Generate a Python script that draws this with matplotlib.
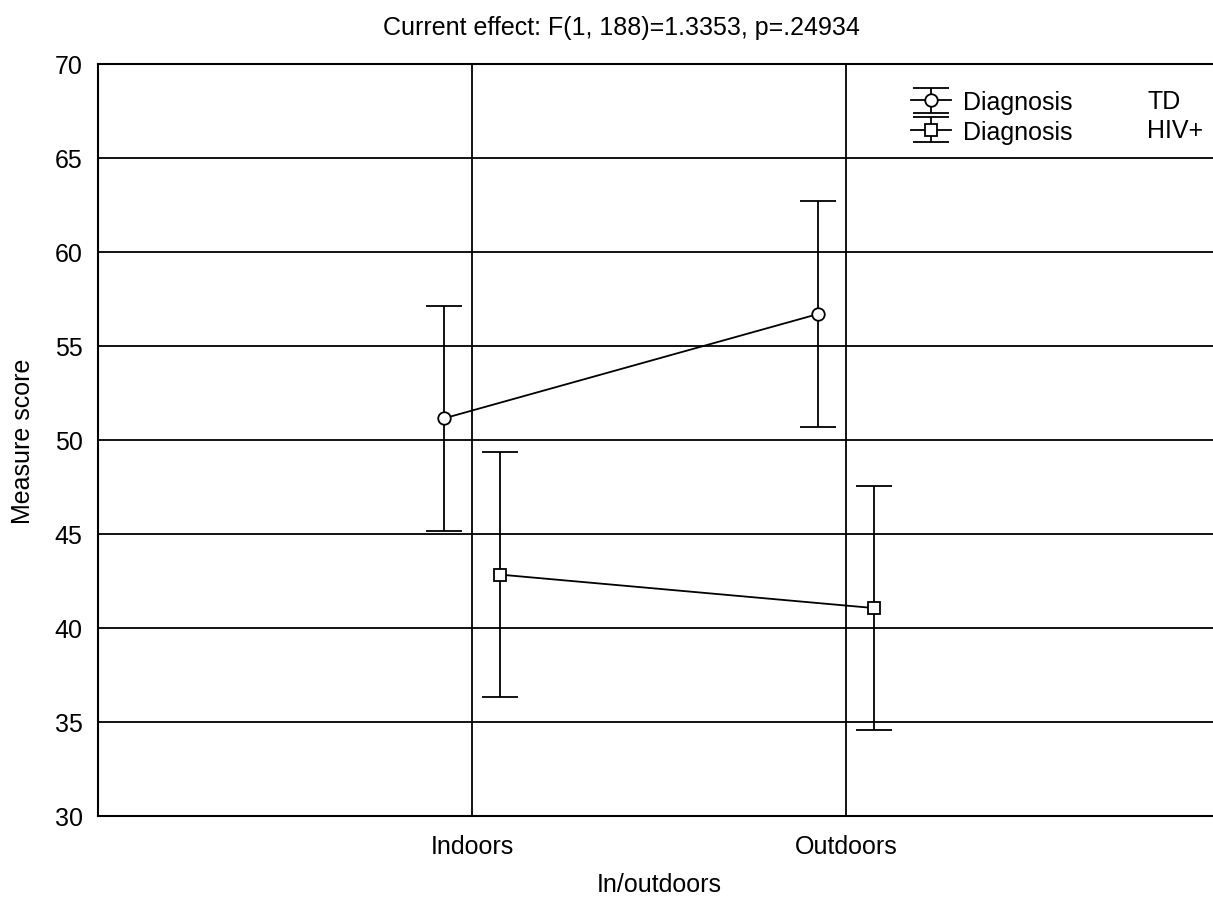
import matplotlib
matplotlib.use('Agg')

import matplotlib.pyplot as plt

plt.rcParams['font.family'] = ['Liberation Sans', 'DejaVu Sans']

# data
categories = ['Indoors', 'Outdoors']
td_mean = [51.15, 56.7]
td_err = [6.0, 6.0]
hiv_mean = [42.84, 41.06]
hiv_err = [6.5, 6.5]
group_labels = ['TD', 'HIV+']
title = 'Current effect: F(1, 188)=1.3353, p=.24934'

fig = plt.figure(figsize=(12.13, 9.04), dpi=100)
ax = fig.add_axes([98/1213, 87/904, 1122/1213, 752/904])

x = [1, 2]
off = 0.075
td = ax.errorbar([v - off for v in x], td_mean, yerr=td_err, color='black',
                 lw=1.3, elinewidth=1.3, capsize=13, capthick=1.3,
                 marker='o', ms=9, mfc='white', mec='black', mew=1.3)
hiv = ax.errorbar([v + off for v in x], hiv_mean, yerr=hiv_err, color='black',
                  lw=1.3, elinewidth=1.3, capsize=13, capthick=1.3,
                  marker='s', ms=8, mfc='white', mec='black', mew=1.3)

# axis styling
ax.set_xlim(0, 3)
ax.set_ylim(30, 70)
ax.set_xticks(x)
ax.set_xticklabels(categories)
ax.set_yticks(range(30, 71, 5))
ax.tick_params(length=0, labelsize=18)
ax.tick_params(axis='y', pad=11)
ax.tick_params(axis='x', pad=13)
ax.grid(True, color='black', lw=1.3)
ax.set_axisbelow(True)
for s in ax.spines.values():
    s.set_linewidth(1.5)
ax.set_xlabel('In/outdoors', fontsize=18, labelpad=10)
ax.set_ylabel('Measure score', fontsize=18, labelpad=14)
fig.text(621/1213, 876/904, title, ha='center', va='center', fontsize=18)

leg = ax.legend([td, hiv], ['Diagnosis', 'Diagnosis'], frameon=False,
                loc='upper left', bbox_to_anchor=(800/1122, 0.982),
                fontsize=18, handlelength=1.6, handletextpad=0.5,
                labelspacing=0.22, borderpad=0)
for i, lab in enumerate(group_labels):
    ax.text(1049/1122, 1 - (37 + 29*i)/752, lab, transform=ax.transAxes,
            fontsize=18, va='center', ha='left')

plt.savefig('out.png')
